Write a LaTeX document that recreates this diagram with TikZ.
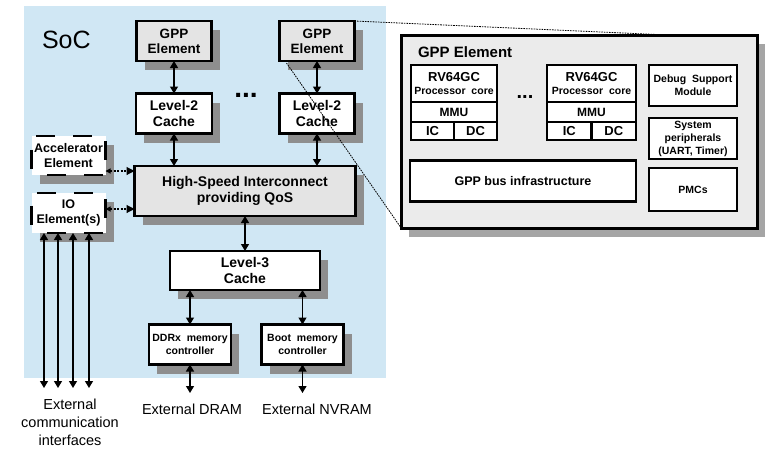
\documentclass[tikz,border=0pt]{standalone}
\usepackage{fontspec}
\setmainfont{Liberation Sans}
\usepackage{tikz}
\usetikzlibrary{positioning,arrows.meta,shadows,calc}
\definecolor{SocBlue}{HTML}{D0E7F4}
\definecolor{SocGray}{HTML}{E4E4E4}
\definecolor{SocPanel}{HTML}{EBEBEB}
\definecolor{SocShadow}{HTML}{8E8E8E}

\begin{document}
\begin{tikzpicture}[
  x=1pt,y=-1pt,
  every node/.style={align=center,inner sep=0pt,outer sep=0pt},
  boxshadow/.style={drop shadow={shadow xshift=8pt,shadow yshift=-9pt,fill=SocShadow,opacity=1}},
  element/.style={draw,line width=2.8pt,fill=SocGray,boxshadow,font=\bfseries\fontsize{13.5}{15}\selectfont},
  cache/.style={draw,line width=2.8pt,fill=white,boxshadow,font=\bfseries\fontsize{14}{15.5}\selectfont},
  looseel/.style={draw,line width=2.8pt,dash pattern=on 19pt off 18pt,dash phase=21.5pt,fill=white,boxshadow,font=\bfseries\fontsize{12.5}{14.5}\selectfont},
  ctrl/.style={draw,line width=2.5pt,fill=white,boxshadow,font=\bfseries\fontsize{10.5}{13}\selectfont},
  panel/.style={draw,line width=2.8pt,fill=SocPanel,drop shadow={shadow xshift=7pt,shadow yshift=-8pt,fill=SocShadow!80,opacity=1}},
  part/.style={draw,line width=2.3pt,fill=white,font=\bfseries\fontsize{10.5}{13}\selectfont},
  extlabel/.style={font=\fontsize{14.5}{18}\selectfont,outer ysep=11pt},
  biarr/.style={{Triangle[length=7pt,width=8pt]}-{Triangle[length=7pt,width=8pt]},line width=1.2pt},
  darr/.style={{Triangle[length=5pt,width=5pt]}-{Triangle[length=8pt,width=8pt]},line width=1.1pt,dash pattern=on 2pt off 1.5pt},
  zoomline/.style={line width=0.8pt,dash pattern=on 1.6pt off 1pt}
]
  \useasboundingbox (0,0) rectangle (769,448);

  % SoC area
  \node[fill=SocBlue,minimum width=362pt,minimum height=372pt,anchor=north west] (soc) at (24,6) {};
  \node[font=\fontsize{25}{25}\selectfont,anchor=west] (soclabel) at (42,40) {SoC};

  \node[element,minimum width=75pt,minimum height=40pt] (gppa) at (174,41) {GPP\\Element};
  \node[element,minimum width=75pt,minimum height=40pt,right=68pt of gppa] (gppb) {GPP\\Element};
  \node[cache,minimum width=76pt,minimum height=40pt,below=32.5pt of gppa] (ltwoa) {Level-2\\Cache};
  \node[cache,minimum width=75pt,minimum height=40pt,below=32.5pt of gppb] (ltwob) {Level-2\\Cache};
  \node[font=\bfseries\fontsize{28}{28}\selectfont] (cachedots) at (246,95) {...};

  \node[element,font=\bfseries\fontsize{14}{16.5}\selectfont,minimum width=221pt,minimum height=50pt] (hsi) at (245,191) {High-Speed Interconnect\\providing QoS};
  \node[looseel,minimum width=74pt,minimum height=39pt] (acc) at (68.5,155.5) {Accelerator\\Element};
  \node[looseel,minimum width=74pt,minimum height=40pt] (io) at (68.5,213) {IO\\Element(s)};

  \node[cache,minimum width=150pt,minimum height=39pt,below=35pt of hsi] (lthree) {Level-3\\Cache};
  \node[ctrl,minimum width=82pt,minimum height=40pt] (ddr) at (190,344.5) {DDRx~ memory\\controller};
  \node[ctrl,minimum width=82pt,minimum height=40pt] (boot) at (302.5,344.5) {Boot~ memory\\controller};

  \node[extlabel,anchor=north] (dram) at (192,393) {External DRAM};
  \node[extlabel,anchor=north] (nvram) at (317,393) {External NVRAM};
  \node[extlabel,anchor=north] (extcomm) at (70,388) {External\\communication\\interfaces};

  \draw[biarr] (gppa) -- (ltwoa);
  \draw[biarr] (gppb) -- (ltwob);
  \draw[biarr] (ltwoa) -- (ltwoa |- hsi.north);
  \draw[biarr] (ltwob) -- (ltwob |- hsi.north);
  \draw[darr] ([yshift=-15.5pt]acc.east) -- ([yshift=-15.5pt]acc.east -| hsi.west);
  \draw[darr] ([yshift=4pt]io.east) -- ([yshift=4pt]io.east -| hsi.west);
  \draw[biarr] (hsi.south) -- (hsi.south |- lthree.north);
  \draw[biarr] (lthree.south -| ddr) -- (ddr);
  \draw[biarr] (lthree.south -| boot) -- (boot);
  \draw[biarr] (ddr.south) -- (ddr.south |- dram.north);
  \draw[biarr] (boot.south) -- (boot.south |- nvram.north);
  \foreach \dx in {-24.5,-10.5,4.5,20.5}
    \draw[biarr] ([xshift=\dx pt]io.south) -- ([xshift=\dx pt]io.south |- extcomm.north);

  % GPP element in detail
  \node[panel,minimum width=356pt,minimum height=193pt] (gppdetail) at (579.5,132) {};
  \node[font=\bfseries\fontsize{15}{17}\selectfont,anchor=west] (gpptitle) at (418,52) {GPP Element};

  \node[part,minimum width=86pt,minimum height=37pt] (cpua) at (454,83.5) {{\fontsize{13}{14}\selectfont RV64GC}\\Processor~ core};
  \node[part,minimum width=86pt,minimum height=20pt,font=\bfseries\fontsize{12}{13}\selectfont,below=0pt of cpua] (mmua) {MMU};
  \node[part,minimum width=43pt,minimum height=18pt,font=\bfseries\fontsize{13}{13}\selectfont,below right=0pt of mmua.south west] (ica) {IC};
  \node[part,minimum width=43pt,minimum height=18pt,font=\bfseries\fontsize{13}{13}\selectfont,right=0pt of ica] (dca) {DC};

  \node[font=\bfseries\fontsize{20}{20}\selectfont] (coredots) at (525,97) {...};

  \node[part,minimum width=89pt,minimum height=37pt] (cpub) at (591.5,83.5) {{\fontsize{13}{14}\selectfont RV64GC}\\Processor~ core};
  \node[part,minimum width=89pt,minimum height=20pt,font=\bfseries\fontsize{12}{13}\selectfont,below=0pt of cpub] (mmub) {MMU};
  \node[part,minimum width=44.5pt,minimum height=18pt,font=\bfseries\fontsize{13}{13}\selectfont,below right=0pt of mmub.south west] (icb) {IC};
  \node[part,minimum width=44.5pt,minimum height=18pt,font=\bfseries\fontsize{13}{13}\selectfont,right=0pt of icb] (dcb) {DC};

  \node[part,minimum width=88pt,minimum height=41pt] (debug) at (693,85.5) {Debug~ Support\\Module};
  \node[part,minimum width=88pt,minimum height=41pt,below=12pt of debug] (sysper) {System\\peripherals\\(UART, Timer)};
  \node[part,minimum width=88pt,minimum height=43pt,below=9pt of sysper] (pmc) {PMCs};
  \node[part,minimum width=226pt,minimum height=41pt,font=\bfseries\fontsize{12.5}{14}\selectfont] (bus) at (523,181) {GPP bus infrastructure};

  % zoom lines
  \coordinate (zoomtop) at ($(gppdetail.north west)!0.78!(gppdetail.north east)$);
  \draw[zoomline] (gppb.north east) -- (zoomtop);
  \draw[zoomline] ([xshift=7pt,yshift=-2pt]gppb.south west) -- (gppdetail.south west);
\end{tikzpicture}
\end{document}
